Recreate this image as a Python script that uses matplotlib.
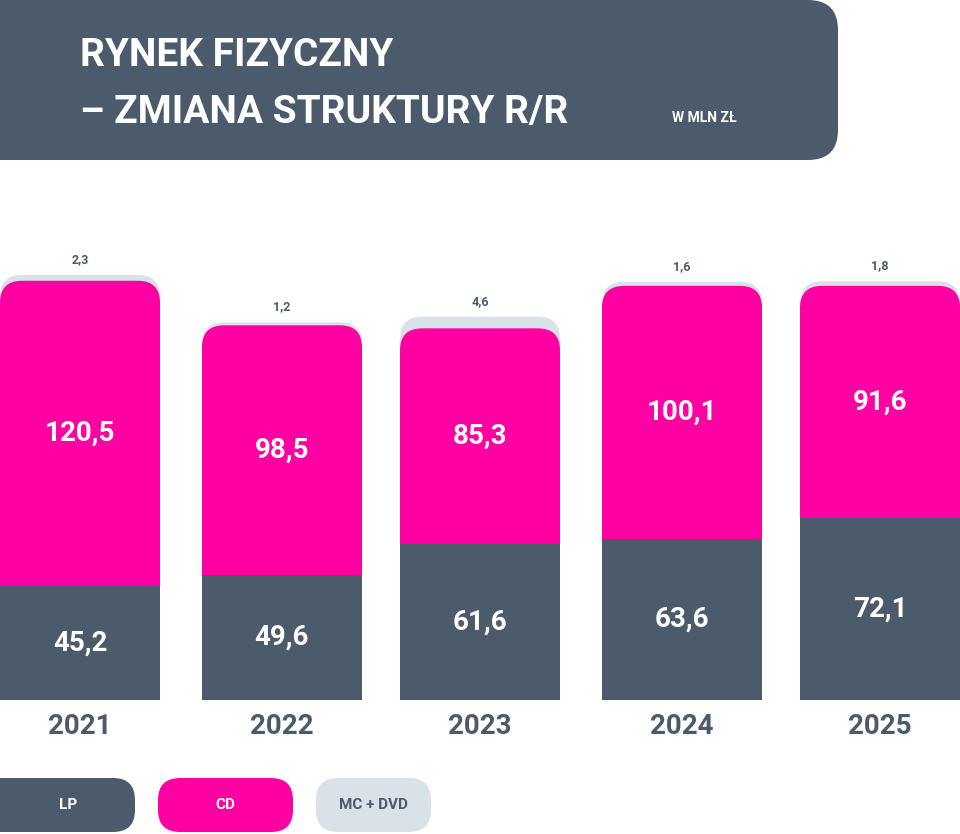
import matplotlib.pyplot as plt
from matplotlib.patches import FancyBboxPatch

years = ["2021", "2022", "2023", "2024", "2025"]
lp = [45.2, 49.6, 61.6, 63.6, 72.1]
cd = [120.5, 98.5, 85.3, 100.1, 91.6]
mc = [2.3, 1.2, 4.6, 1.6, 1.8]

DARK = "#4b5b6b"
PINK = "#ff00a2"
LIGHT = "#d9e2e9"
FONT = ["Roboto", "DejaVu Sans"]

def fmt(v):
    return f"{v:.1f}".replace(".", ",")

# axes: x in pixels, y in value units (2.53 px per unit, baseline at pixel 700)
PX = 2.53
fig = plt.figure(figsize=(9.6, 8.34), dpi=100)
ax = fig.add_axes([0, 0, 1, 1])
ax.set_xlim(0, 960)
ax.set_ylim(-134 / PX, 700 / PX)
ax.axis("off")

centers = [80, 282, 480, 682, 880]
width = 160
asp = 1 / PX

for x, y, l, c, m in zip(centers, years, lp, cd, mc):
    left = x - width / 2
    total = l + c + m
    ax.add_patch(FancyBboxPatch((left, l - 10), width, total - l + 10,
                                boxstyle="round,pad=0,rounding_size=22",
                                mutation_aspect=asp, fc=LIGHT, ec="none"))
    ax.add_patch(FancyBboxPatch((left, l - 10), width, c + 10,
                                boxstyle="round,pad=0,rounding_size=22",
                                mutation_aspect=asp, fc=PINK, ec="none"))
    ax.bar(x, l, width=width, color=DARK, zorder=3)
    ax.text(x, l / 2, fmt(l), ha="center", va="center", color="white",
            fontsize=20, fontweight="bold", family=FONT, zorder=4)
    ax.text(x, l + c / 2, fmt(c), ha="center", va="center", color="white",
            fontsize=20, fontweight="bold", family=FONT, zorder=4)
    ax.text(x, total + 6, fmt(m), ha="center", va="center", color=DARK,
            fontsize=9, fontweight="bold", family=FONT)
    ax.text(x, -26 / PX, y, ha="center", va="center", color=DARK,
            fontsize=20, fontweight="bold", family=FONT)

# title box
def py(p):
    return (700 - p) / PX

ax.add_patch(FancyBboxPatch((-40, py(160)), 878, 160 / PX,
                            boxstyle="round,pad=0,rounding_size=30",
                            mutation_aspect=asp, fc=DARK, ec="none"))
ax.text(80, py(55), "RYNEK FIZYCZNY", color="white", fontsize=28,
        fontweight="bold", family=FONT, va="center")
ax.text(80, py(112), "– ZMIANA STRUKTURY R/R", color="white", fontsize=28,
        fontweight="bold", family=FONT, va="center")
ax.text(672, py(118), "W MLN ZŁ", color="white", fontsize=10,
        fontweight="bold", family=FONT, va="center")

# legend pills
legend = [("LP", DARK, "white", -40, 175), ("CD", PINK, "white", 158, 135),
          ("MC + DVD", LIGHT, DARK, 316, 115)]
for name, fc, tc, lx, w in legend:
    ax.add_patch(FancyBboxPatch((lx, py(832)), w, 54 / PX,
                                boxstyle="round,pad=0,rounding_size=22",
                                mutation_aspect=asp, fc=fc, ec="none"))
    cx = 68 if name == "LP" else lx + w / 2
    ax.text(cx, py(805), name, ha="center", va="center", color=tc,
            fontsize=11, fontweight="bold", family=FONT)

fig.savefig("out.png", dpi=100)
